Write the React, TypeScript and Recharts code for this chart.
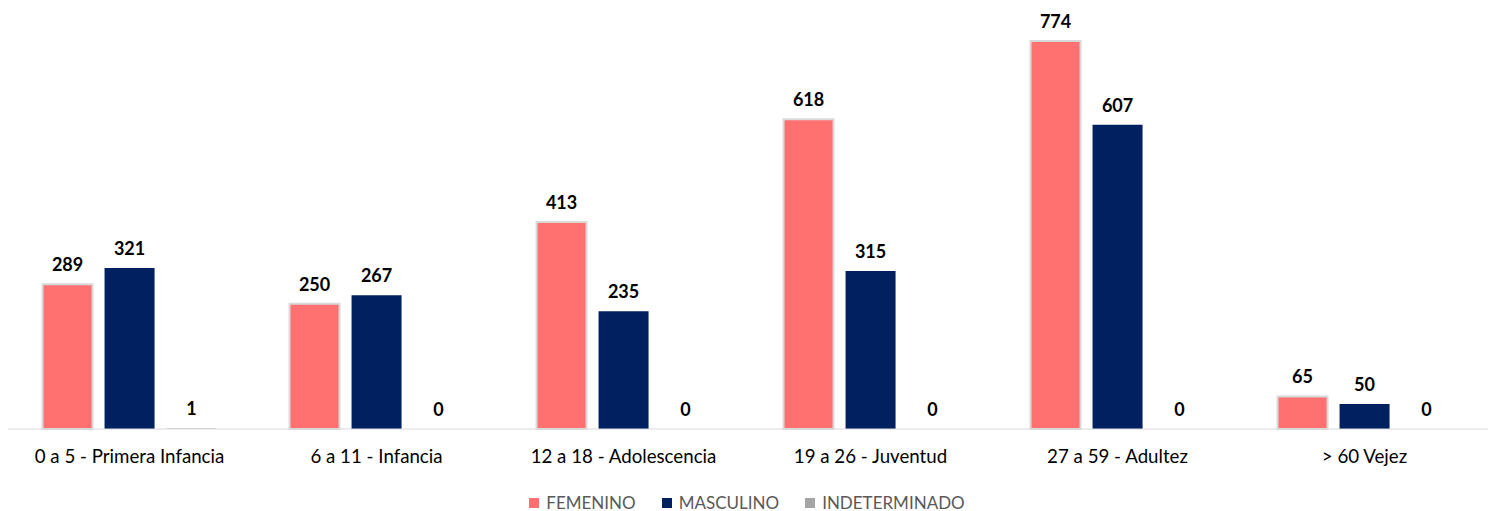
import { BarChart, Bar, XAxis, YAxis, Legend, LabelList } from "recharts";

const categories = [
  "0 a 5 - Primera Infancia",
  "6 a 11 - Infancia",
  "12 a 18 - Adolescencia",
  "19 a 26 - Juventud",
  "27 a 59 - Adultez",
  "> 60 Vejez",
];
const femenino = [289, 250, 413, 618, 774, 65];
const masculino = [321, 267, 235, 315, 607, 50];
const indeterminado = [1, 0, 0, 0, 0, 0];

const series = [
  { key: "femenino", name: "FEMENINO", color: "#FF7070", stroke: "#D9D9D9" },
  { key: "masculino", name: "MASCULINO", color: "#002060", stroke: "none" },
  { key: "indeterminado", name: "INDETERMINADO", color: "#A5A5A5", stroke: "none" },
];

const data = categories.map((group, i) => ({
  group,
  femenino: femenino[i],
  masculino: masculino[i],
  indeterminado: indeterminado[i],
}));

const font = "Lato, 'Open Sans', sans-serif";

function LegendBox() {
  return (
    <div style={{ display: "flex", justifyContent: "center", gap: 26, paddingTop: 7, fontFamily: font, fontSize: 17, color: "#595959" }}>
      {series.map((s) => (
        <span key={s.key} style={{ display: "flex", alignItems: "center", gap: 7 }}>
          <span style={{ width: 10, height: 10, background: s.color, display: "inline-block" }} />
          {s.name}
        </span>
      ))}
    </div>
  );
}

export default function App() {
  return (
    <div style={{ width: 1494, height: 503, background: "#fff" }}>
      <BarChart
        width={1494}
        height={503}
        data={data}
        margin={{ top: 20, right: 14, left: -2, bottom: 0 }}
        barGap={12}
        barCategoryGap="14.8%"
      >
        <XAxis
          dataKey="group"
          axisLine={{ stroke: "#D9D9D9" }}
          tickLine={false}
          tick={{ fontSize: 18.7, fill: "#000", fontFamily: font }}
          tickMargin={15}
          height={56}
          interval={0}
        />
        <YAxis hide domain={[0, 800]} />
        <Legend verticalAlign="bottom" height={26} content={<LegendBox />} />
        {series.map((s) => (
          <Bar
            key={s.key}
            dataKey={s.key}
            name={s.name}
            fill={s.color}
            stroke={s.stroke}
            strokeWidth={2}
            minPointSize={0.1}
            isAnimationActive={false}
          >
            <LabelList
              dataKey={s.key}
              position="top"
              offset={13}
              style={{ fontSize: 18, fontWeight: 700, fill: "#000", fontFamily: font }}
            />
          </Bar>
        ))}
      </BarChart>
    </div>
  );
}
